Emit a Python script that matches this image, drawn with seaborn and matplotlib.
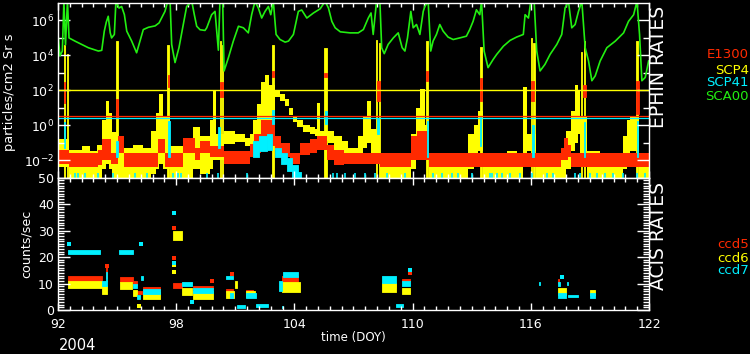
import numpy as np
import matplotlib
matplotlib.use("Agg")
import matplotlib.pyplot as plt
import seaborn as sns
from matplotlib.ticker import FixedLocator, NullFormatter

# --- colours ---
RED = "#ff2a00"
YEL = "#ffff00"
CYN = "#00f0ff"
GRN = "#22ee11"

# ================= EPHIN (top panel), values are log10(particles/cm2 Sr s) =================
# SCA00 (green line)
sca00_doy = [92.00, 92.10, 92.22, 92.30, 92.38, 92.48, 92.56, 92.86, 93.20, 93.54, 94.05, 94.22,
             94.35, 94.45, 94.55, 94.65, 94.72, 94.86, 94.94, 95.10, 95.23, 95.37, 95.49, 95.74,
             95.99, 96.16, 96.33, 96.59, 96.93, 97.13, 97.30, 97.43, 97.57, 97.69, 97.77, 97.94,
             98.14, 98.36, 98.53, 98.79, 98.92, 99.04, 99.21, 99.46, 99.55, 99.80, 99.97, 100.14,
             100.22, 100.36, 100.43, 100.65, 100.90, 101.16, 101.41, 101.66, 101.83, 102.00, 102.17,
             102.34, 102.51, 102.68, 102.80, 102.93, 103.07, 103.27, 103.53, 103.70, 103.95, 104.20,
             104.37, 104.63, 104.97, 105.31, 105.56, 105.73, 105.90, 106.07, 106.33, 106.83, 107.24,
             107.50, 107.75, 107.89, 108.00, 108.17, 108.34, 108.43, 108.56, 108.76, 109.02, 109.27,
             109.47, 109.61, 109.74, 109.91, 110.03, 110.20, 110.37, 110.54, 110.62, 110.79, 110.92,
             111.04, 111.21, 111.38, 111.55, 111.80, 112.06, 112.39, 112.73, 112.90, 113.07, 113.24,
             113.41, 113.50, 113.63, 113.83, 114.09, 114.27, 114.61, 114.95, 115.28, 115.62, 115.71,
             115.88, 116.00, 116.17, 116.30, 116.47, 116.72, 116.98, 117.32, 117.57, 117.74, 117.91,
             118.08, 118.25, 118.42, 118.59, 118.76, 118.93, 119.10, 119.27, 119.52, 119.86, 120.29,
             120.71, 120.96, 121.22, 121.39, 121.52, 121.64, 121.81, 121.98]
sca00_log = [5.2, 3.97, 4.25, 7.1, 4.6, 7.1, 5.0, 4.82, 4.63, 4.44, 4.25, 4.29,
             5.39, 5.9, 6.24, 5.3, 5.0, 5.2, 7.1, 6.71, 6.8, 6.33, 5.39, 4.82,
             4.15, 4.82, 5.48, 5.61, 5.69, 5.86, 6.24, 6.52, 7.1, 7.1, 4.63, 3.59,
             4.44, 5.77, 6.8, 7.1, 6.33, 5.67, 5.47, 5.43, 5.58, 6.33, 6.52, 4.3,
             7.1, 7.1, 3.11, 3.87, 4.82, 5.67, 5.58, 5.29, 6.33, 7.1, 6.71,
             6.14, 6.52, 6.8, 6.33, 7.1, 5.2, 4.91, 4.76, 4.82, 5.2, 6.52,
             6.6, 6.14, 6.43, 6.67, 7.1, 6.71, 5.95, 5.58, 5.35, 5.29, 5.29,
             5.48, 6.14, 6.43, 5.2, 7.1, 7.1, 4.44, 4.10, 4.63, 5.0, 5.29,
             4.44, 4.25, 5.0, 6.52, 5.58, 5.77, 5.2, 6.52, 6.8, 7.1, 4.25,
             4.82, 5.2, 5.77, 5.39, 5.05, 4.91, 5.0, 5.1, 5.48, 5.95, 6.61,
             6.33, 7.1, 4.25, 3.3, 3.77, 4.06, 4.53, 4.86, 5.05, 5.2, 6.33,
             6.14, 7.1, 7.1, 4.25, 3.11, 3.49, 4.06, 4.63, 5.2, 6.71, 7.1,
             5.58, 5.77, 6.52, 7.1, 4.44, 3.68, 2.55, 2.83, 3.68, 4.44, 4.82,
             5.29, 5.95, 6.33, 7.1, 5.2, 2.55, 2.74, 3.68]

# SCP4 (yellow) band: segment start, low, high
scp4_start = [92.00, 92.55, 93.20, 93.60, 94.00, 94.25, 94.45, 94.60, 94.75, 95.05, 95.30, 95.80,
              96.30, 96.70, 96.95, 97.15, 97.35, 97.70, 98.85, 99.20, 99.70, 99.88, 100.02, 100.45,
              101.00, 101.50, 101.75, 101.90, 102.10, 102.30, 102.50, 102.70, 103.00, 103.25, 103.50,
              103.75, 103.95, 104.15, 104.45, 104.80, 105.05, 105.15, 105.30, 105.70, 106.00, 106.40,
              106.70, 107.25, 107.50, 107.70, 107.90, 108.35, 109.00, 109.50, 109.90, 110.15, 110.40,
              110.65, 110.85, 112.80, 113.10, 113.30, 113.55, 114.80, 115.30, 115.60, 115.80, 116.25,
              116.50, 117.30, 117.80, 118.05, 118.25, 118.40, 118.50, 118.85, 119.50, 120.20, 120.70,
              120.90, 121.05, 121.50]
scp4_lo = [-2.4, -3.0, -3.0, -3.0, -3.0, -2.5, -2.2, -2.5, -3.0, -3.0, -3.0, -3.0,
           -3.0, -2.8, -2.5, -2.2, -2.5, -3.0, -2.5, -2.8, -2.5, -2.0, -2.0, -1.05,
           -0.95, -1.2, -1.4, -1.2, -0.8, -0.3, 0.0, 0.2, 1.6, 1.4, 1.1,
           0.6, 0.2, -0.1, -0.4, -0.5, -0.6, -0.7, -0.9, -1.0, -1.4, -1.7,
           -2.2, -1.6, -1.3, -1.0, -1.6, -3.0, -3.0, -3.0, -2.5, -1.5, -1.0,
           -2.0, -3.0, -2.5, -2.0, -1.5, -3.0, -3.0, -3.0, -2.0, -1.5, -3.0,
           -3.0, -3.0, -2.5, -1.5, -1.0, -0.5, -2.0, -3.0, -3.0, -3.0, -2.5,
           -2.0, -1.5, -3.0]
scp4_hi = [-0.8, -1.4, -1.2, -1.5, -1.1, 0.3, 1.4, 0.7, -0.4, -0.9, -1.3, -1.1,
           -1.3, -0.3, 0.7, 1.8, 0.5, -1.2, -0.1, -0.6, 0.3, 2.0, -0.5, -0.35,
           -0.5, -0.7, -0.5, 0.3, 1.2, 2.5, 2.9, 2.3, 2.0, 1.8, 1.5,
           1.0, 0.5, 0.3, 0.0, -0.1, -0.2, 1.3, -0.3, -0.3, -0.6, -0.9,
           -1.3, -0.6, 0.5, 1.4, -0.2, -1.7, -1.9, -1.6, -0.5, 1.0, 2.1,
           0.0, -2.1, -0.5, 0.0, 0.8, -1.9, -1.5, -1.7, 2.2, -0.5, -1.6,
           -1.9, -1.7, -0.3, 0.8, 2.3, 2.0, 0.5, -1.5, -1.6, -1.8, -0.6,
           0.3, 0.5, -1.8]
# SCP4 radiation-belt spikes: start, end, peak
scp4_sp_x0 = [92.30, 92.46, 94.94, 97.55, 100.20, 100.33, 102.86, 105.50, 108.15, 108.28,
              110.68, 113.40, 116.00, 116.12, 118.55, 118.68, 121.35]
scp4_sp_x1 = [92.35, 92.51, 95.03, 97.64, 100.26, 100.40, 102.98, 105.64, 108.21, 108.34,
              110.78, 113.50, 116.07, 116.19, 118.61, 118.76, 121.45]
scp4_sp_hi = [4.6, 4.1, 4.8, 4.6, 4.8, 4.6, 4.6, 4.4, 4.9, 4.7,
              4.8, 4.5, 5.0, 4.7, 4.2, 4.8, 4.8]

# E1300 (red) band
e1300_start = [92.00, 92.55, 94.05, 94.25, 94.70, 95.05, 95.35, 97.10, 97.45, 98.35, 98.95, 99.20,
               99.70, 100.42, 101.75, 101.95, 102.30, 103.00, 103.30, 103.80, 104.30, 104.80, 105.15,
               105.67, 106.00, 106.50, 108.35, 109.90, 110.20, 110.85, 117.55, 117.70, 117.90, 118.05]
e1300_lo = [-2.2, -2.4, -2.3, -2.0, -2.2, -1.6, -2.4, -1.6, -2.4, -1.6, -2.0, -1.6,
            -1.8, -2.2, -1.8, -1.6, -1.2, -1.4, -1.8, -2.2, -1.7, -1.6, -1.4,
            -2.0, -2.3, -2.2, -2.4, -2.0, -2.0, -2.4, -2.0, -2.0, -1.8, -2.4]
e1300_hi = [-1.4, -1.6, -1.4, -0.8, -1.6, -0.6, -1.6, -0.8, -1.6, -0.7, -1.3, -0.9,
            -1.2, -1.5, -1.05, -0.5, 0.3, -0.6, -1.0, -1.6, -1.0, -0.8, -0.6,
            -1.1, -1.4, -1.6, -1.6, -0.6, -0.3, -1.6, -1.3, -0.7, -1.1, -1.6]
e1300_sp_x0 = [92.28, 94.95, 97.56, 100.22, 102.86, 105.52, 108.17, 110.68, 113.40, 116.02, 118.65, 121.35]
e1300_sp_x1 = [92.36, 95.03, 97.64, 100.37, 102.96, 105.64, 108.34, 110.80, 113.52, 116.17, 118.78, 121.47]
e1300_sp_lo = [1.3, 0.4, 2.2, 1.6, 2.75, 2.75, 1.4, 2.55, 1.4, 1.4, 1.6, 0.65]
e1300_sp_hi = [2.5, 1.5, 2.9, 2.5, 3.1, 3.0, 2.55, 3.1, 2.7, 2.55, 2.3, 2.55]

# SCP41 (cyan) band pieces and spikes
scp41_x0 = [101.90, 102.20, 102.60, 103.00, 103.30, 103.60, 103.90, 104.20]
scp41_x1 = [102.20, 102.60, 102.86, 103.30, 103.60, 103.90, 104.20, 104.35]
scp41_lo = [-1.8, -1.5, -1.4, -1.8, -2.2, -2.6, -3.0, -3.0]
scp41_hi = [-0.9, -0.6, -0.5, -1.3, -1.6, -1.9, -2.3, -2.7]
scp41_sp_x0 = [92.30, 94.95, 97.58, 100.14, 102.88, 105.55, 108.20, 110.72, 113.43, 116.08, 118.70, 121.38]
scp41_sp_x1 = [92.38, 95.03, 97.66, 100.22, 102.96, 105.63, 108.28, 110.78, 113.49, 116.14, 118.76, 121.46]
scp41_sp_lo = [-1.3, -1.8, -1.8, -1.3, 0.1, 0.1, -0.5, -1.8, -1.2, -1.8, -1.8, -1.8]
scp41_sp_hi = [0.2, -0.9, 0.27, -0.1, 0.85, 0.8, 0.35, 0.27, 0.46, 0.0, 0.18, 0.27]
scp41_blip = [92.02, 92.86, 93.03, 93.37, 94.05, 94.81, 95.91, 96.50, 97.85, 98.11, 98.24,
              99.55, 100.14, 101.58, 105.98, 106.15, 106.57, 107.08, 107.58, 108.09, 108.68,
              109.61, 111.05, 111.47, 111.98, 112.32, 112.99, 113.93, 114.01, 114.27, 114.52,
              114.95, 115.45, 116.04, 116.80, 117.14, 118.24, 118.49, 119.00, 119.34, 119.76,
              120.19, 120.70, 121.37, 121.79]

# alert limits
lim_scp4, lim_e1300, lim_scp41 = 100.0, 3.3, 2.5

# ================= ACIS (bottom panel), counts/sec clusters: start, end, low, high =================
ccd5_x0 = [92.52, 94.43, 95.15, 95.83, 96.00, 96.33, 97.85, 98.87, 100.53, 101.54, 103.36, 108.60, 109.44, 117.36]
ccd5_x1 = [94.22, 94.48, 95.83, 96.00, 96.25, 97.18, 98.28, 99.88, 100.87, 101.90, 104.20, 109.18, 109.87, 117.45]
ccd5_lo = [10.8, 12.0, 10.5, 9.5, 6.1, 7.3, 8.5, 7.8, 6.7, 6.7, 10.5, 8.5, 10.8, 10.1]
ccd5_hi = [12.7, 17.5, 12.3, 11.0, 7.3, 8.6, 10.1, 9.1, 8.0, 7.6, 12.7, 9.7, 11.8, 11.8]

ccd6_x0 = [92.52, 94.22, 95.15, 95.79, 96.05, 96.33, 97.85, 98.28, 98.87, 100.53, 100.98, 101.54,
           103.36, 108.43, 109.44, 117.40, 118.99]
ccd6_x1 = [94.22, 94.47, 95.74, 96.00, 96.15, 97.18, 98.28, 98.79, 99.88, 100.95, 101.07, 102.00,
           104.29, 109.18, 109.87, 117.80, 119.25]
ccd6_lo = [8.2, 5.9, 8.0, 5.4, 1.1, 4.2, 26.6, 5.7, 4.2, 4.4, 8.2, 5.1, 6.7, 6.7, 5.9, 5.7, 5.7]
ccd6_hi = [10.8, 8.9, 10.5, 7.6, 1.9, 6.7, 29.7, 8.5, 7.0, 7.0, 11.0, 7.0, 10.5, 10.1, 8.5, 8.2, 7.6]

ccd7_x0 = [92.52, 94.21, 94.44, 95.11, 95.79, 95.99, 96.20, 96.33, 98.28, 98.87, 100.53, 100.73,
           101.07, 101.54, 102.05, 103.20, 103.36, 103.44, 108.43, 109.18, 109.44, 116.40, 117.36,
           117.40, 117.83, 117.90, 118.99]
ccd7_x1 = [94.13, 94.47, 94.48, 95.79, 95.99, 96.16, 96.30, 97.17, 98.79, 99.88, 100.87, 100.90,
           101.49, 102.05, 102.68, 103.36, 103.44, 104.20, 109.18, 109.52, 109.87, 116.45, 117.48,
           117.80, 117.87, 118.38, 119.25]
ccd7_lo = [21.2, 8.9, 11.0, 21.1, 8.2, 4.2, 11.4, 6.1, 8.9, 6.3, 11.8, 4.7,
           0.9, 4.7, 1.0, 7.0, 0.6, 12.3, 10.1, 1.1, 8.9, 9.5, 8.9,
           4.7, 9.5, 4.9, 4.7]
ccd7_hi = [22.8, 11.0, 14.5, 22.7, 9.7, 5.7, 12.9, 7.8, 10.4, 8.2, 13.0, 6.3,
           1.9, 6.3, 2.2, 10.8, 1.5, 14.2, 12.7, 2.2, 11.0, 10.5, 10.5,
           6.3, 10.5, 5.7, 6.3]

# isolated points
ccd5_pt_doy = [97.88, 97.88, 94.47, 109.87, 100.85, 99.83]
ccd5_pt_val = [31.0, 19.6, 16.5, 14.0, 13.5, 10.8]
ccd6_pt_doy = [97.88, 97.88, 96.10]
ccd6_pt_val = [17.0, 14.2, 1.5]
ccd7_pt_doy = [92.55, 96.20, 97.88, 97.88, 109.87, 117.60, 98.79]
ccd7_pt_val = [25.0, 25.0, 36.7, 17.7, 15.2, 12.4, 3.2]

doy_major = [92, 98, 104, 110, 116, 122]

# ================= figure =================
W, H = 750, 354
fig = plt.figure(figsize=(W / 100, H / 100), dpi=100, facecolor="black")
ax1 = fig.add_axes([58 / W, 1 - 177.7 / H, 591 / W, 174.7 / H])
ax2 = fig.add_axes([58 / W, 1 - 310 / H, 591 / W, 132.3 / H])
for ax in (ax1, ax2):
    ax.set_facecolor("black")
    for sp in ax.spines.values():
        sp.set_color("white")
        sp.set_linewidth(1.0)


def band(ax, start, lo, hi, color, end=122.0):
    x = np.append(start, end)
    lo = np.append(lo, lo[-1])
    hi = np.append(hi, hi[-1])
    ax.fill_between(x, 10.0 ** lo, 10.0 ** hi, step="post", color=color, linewidth=0)


def blocks(ax, x0, x1, lo, hi, color, log=True):
    for a, b, l, h in zip(x0, x1, lo, hi):
        if log:
            l, h = 10.0 ** l, 10.0 ** h
        ax.fill_between([a, b], l, h, color=color, edgecolor=color, linewidth=0.6)


# top panel
band(ax1, scp4_start, scp4_lo, scp4_hi, YEL)
blocks(ax1, scp4_sp_x0, scp4_sp_x1, [-3.0] * len(scp4_sp_x0), scp4_sp_hi, YEL)
band(ax1, e1300_start, e1300_lo, e1300_hi, RED)
blocks(ax1, e1300_sp_x0, e1300_sp_x1, e1300_sp_lo, e1300_sp_hi, RED)
blocks(ax1, scp41_x0, scp41_x1, scp41_lo, scp41_hi, CYN)
blocks(ax1, scp41_sp_x0, scp41_sp_x1, scp41_sp_lo, scp41_sp_hi, CYN)
ax1.vlines(scp41_blip, 1e-3, 10 ** -2.75, color=CYN, linewidth=1.2)
sns.lineplot(x=sca00_doy, y=10.0 ** np.array(sca00_log), ax=ax1, color=GRN,
             linewidth=1.2, estimator=None, sort=False)
ax1.axhline(lim_scp4, color=YEL, linewidth=1.0)
ax1.axhline(lim_scp41, color=CYN, linewidth=0.9)
ax1.axhline(lim_e1300, color=RED, linewidth=0.9)

ax1.set_yscale("log")
ax1.set_ylim(1e-3, 1e7)
ax1.set_xlim(92, 122)
ax1.yaxis.set_major_locator(FixedLocator([1e-2, 1e0, 1e2, 1e4, 1e6]))
ax1.yaxis.set_minor_locator(FixedLocator([1e-1, 1e1, 1e3, 1e5]))
ax1.yaxis.set_minor_formatter(NullFormatter())
ax1.set_yticklabels([r"$10^{-2}$", r"$10^{0}$", r"$10^{2}$", r"$10^{4}$", r"$10^{6}$"])
ax1.xaxis.set_major_locator(FixedLocator(doy_major))
ax1.xaxis.set_minor_locator(FixedLocator(np.arange(92, 122.01, 0.6)))
ax1.set_xticklabels([])

# bottom panel
blocks(ax2, ccd5_x0, ccd5_x1, ccd5_lo, ccd5_hi, RED, log=False)
blocks(ax2, ccd6_x0, ccd6_x1, ccd6_lo, ccd6_hi, YEL, log=False)
blocks(ax2, ccd7_x0, ccd7_x1, ccd7_lo, ccd7_hi, CYN, log=False)
sns.scatterplot(x=ccd5_pt_doy, y=ccd5_pt_val, ax=ax2, color=RED, marker="s", s=5, linewidth=0)
sns.scatterplot(x=ccd6_pt_doy, y=ccd6_pt_val, ax=ax2, color=YEL, marker="s", s=5, linewidth=0)
sns.scatterplot(x=ccd7_pt_doy, y=ccd7_pt_val, ax=ax2, color=CYN, marker="s", s=5, linewidth=0)
ax2.set_xlim(92, 122)
ax2.set_ylim(0, 50)
ax2.xaxis.set_major_locator(FixedLocator(doy_major))
ax2.xaxis.set_minor_locator(FixedLocator(np.arange(92, 122.01, 0.6)))
ax2.set_xticklabels([str(d) for d in doy_major])
ax2.yaxis.set_major_locator(FixedLocator(np.arange(0, 51, 10)))
ax2.yaxis.set_minor_locator(FixedLocator(np.arange(0, 51, 1)))

for ax in (ax1, ax2):
    ax.tick_params(which="both", direction="in", colors="white", top=True, right=True,
                   labelsize=9, width=1.0)
    ax.tick_params(axis="y", which="major", length=8.5, pad=3)
    ax.tick_params(axis="y", which="minor", length=4.5)
    ax.tick_params(axis="x", which="major", length=5, pad=6)
    ax.tick_params(axis="x", which="minor", length=3)
    ax.set_xlabel("")
    ax.set_ylabel("")


def ftext(x, y, s, **kw):
    fig.text(x / W, 1 - y / H, s, color=kw.pop("color", "white"), **kw)


ftext(10, 92, "particles/cm2 Sr s", rotation=90, ha="center", va="center", fontsize=9.4)
ftext(26, 244, "counts/sec", rotation=90, ha="center", va="center", fontsize=9.1)
ftext(659, 67, "EPHIN RATES", rotation=90, ha="center", va="center", fontsize=13.5)
ftext(659, 236, "ACIS RATES", rotation=90, ha="center", va="center", fontsize=13.5)
ftext(749, 55, "E1300", color=RED, ha="right", va="center", fontsize=9.5)
ftext(749, 70, "SCP4", color=YEL, ha="right", va="center", fontsize=9.5)
ftext(749, 83, "SCP41", color=CYN, ha="right", va="center", fontsize=9.5)
ftext(749, 97, "SCA00", color=GRN, ha="right", va="center", fontsize=9.5)
ftext(749, 245, "ccd5", color=RED, ha="right", va="center", fontsize=9.5)
ftext(749, 258, "ccd6", color=YEL, ha="right", va="center", fontsize=9.5)
ftext(749, 271, "ccd7", color=CYN, ha="right", va="center", fontsize=9.5)
ftext(353, 337, "time (DOY)", ha="center", va="center", fontsize=8.5)
ftext(78, 346, "2004", ha="center", va="center", fontsize=10.5)

fig.savefig("out.png", dpi=100, facecolor="black")
